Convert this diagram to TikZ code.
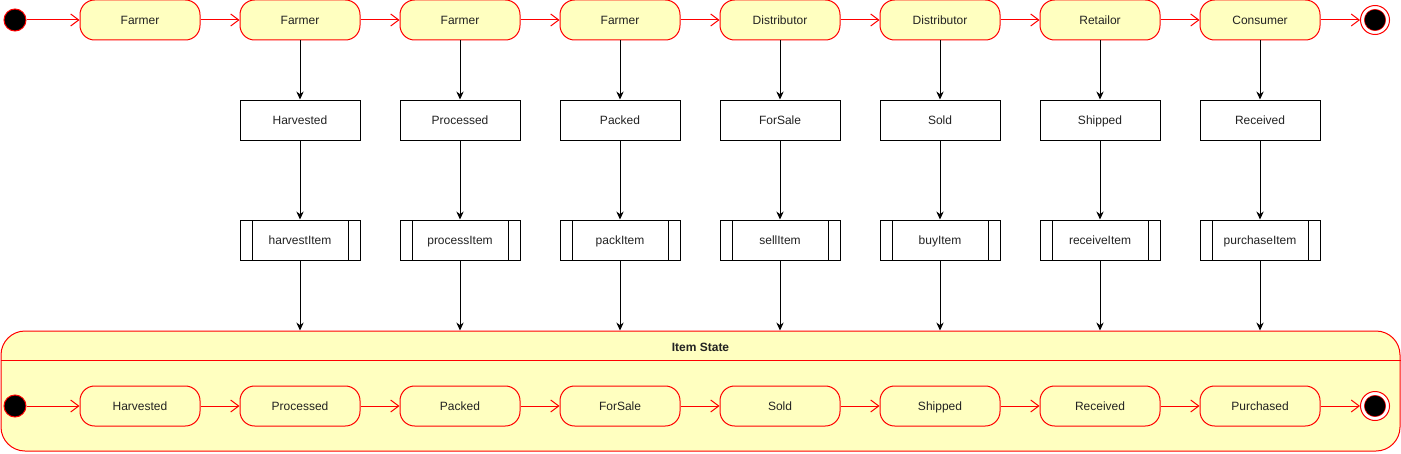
\documentclass[tikz,border=0pt]{standalone}
\usepackage{fontspec}
\setmainfont{Liberation Sans}
\usetikzlibrary{arrows.meta}
\definecolor{stateyellow}{HTML}{FFFFC0}
\definecolor{txt}{HTML}{222222}
\begin{document}
\begin{tikzpicture}[x=0.75pt,y=-0.75pt,
  every node/.style={font=\fontsize{9}{10}\selectfont, text=txt, inner sep=0pt},
  fixtext/.style={text height=8pt, text depth=1pt},
  statebox/.style={fixtext, draw=red, fill=stateyellow, rounded corners=11pt, minimum width=90pt, minimum height=30pt, line width=0.75pt},
  plainbox/.style={fixtext, draw=black, fill=white, minimum width=90pt, minimum height=30pt, line width=0.75pt},
  procbox/.style={plainbox, path picture={
      \draw[black, line width=0.75pt] ([xshift=9pt]path picture bounding box.north west) -- ([xshift=9pt]path picture bounding box.south west);
      \draw[black, line width=0.75pt] ([xshift=-9pt]path picture bounding box.north east) -- ([xshift=-9pt]path picture bounding box.south east);}},
  initstate/.style={circle, draw=red, fill=black, minimum size=16.5pt, line width=0.75pt},
  finalstate/.style={circle, draw=red, fill=white, minimum size=21.75pt, line width=0.75pt, path picture={
      \filldraw[fill=black, draw=red, line width=0.4pt] (path picture bounding box.center) circle (8pt);}},
  redarrow/.style={draw=red, line width=0.75pt, -{Straight Barb[length=6pt,width=9pt]}},
  blackarrow/.style={draw=black, line width=0.75pt, -{Stealth[length=6pt,width=5.5pt,inset=2pt]}}
]
\useasboundingbox (0,0) rectangle (1401,453);

% container
\node[draw=red, fill=stateyellow, rounded corners=18pt, line width=0.75pt, minimum width=1049.25pt, minimum height=90pt] (cont) at (700.5,391) {};
\draw[red, line width=0.75pt] ([yshift=-22.5pt]cont.north west) -- ([yshift=-22.5pt]cont.north east);
\node[fixtext, font=\bfseries\fontsize{9}{10}\selectfont] (ctitle) at (700.5,347) {Item State};

% top row
\node[initstate] (i0) at (15,20) {};
\node[statebox] (a1) at (140,20) {Farmer};
\node[statebox] (a2) at (300,20) {Farmer};
\node[statebox] (a3) at (460,20) {Farmer};
\node[statebox] (a4) at (620,20) {Farmer};
\node[statebox] (a5) at (780,20) {Distributor};
\node[statebox] (a6) at (940,20) {Distributor};
\node[statebox] (a7) at (1100,20) {Retailor};
\node[statebox] (a8) at (1260,20) {Consumer};
\node[finalstate] (f0) at (1375,20) {};

\draw[redarrow] (i0) -- (a1);
\draw[redarrow] (a1) -- (a2);
\draw[redarrow] (a2) -- (a3);
\draw[redarrow] (a3) -- (a4);
\draw[redarrow] (a4) -- (a5);
\draw[redarrow] (a5) -- (a6);
\draw[redarrow] (a6) -- (a7);
\draw[redarrow] (a7) -- (a8);
\draw[redarrow] (a8) -- (f0);

% status boxes
\node[plainbox] (s2) at (300,120) {Harvested};
\node[plainbox] (s3) at (460,120) {Processed};
\node[plainbox] (s4) at (620,120) {Packed};
\node[plainbox] (s5) at (780,120) {ForSale};
\node[plainbox] (s6) at (940,120) {Sold};
\node[plainbox] (s7) at (1100,120) {Shipped};
\node[plainbox] (s8) at (1260,120) {Received};

% process boxes
\node[procbox] (p2) at (300,240) {harvestItem};
\node[procbox] (p3) at (460,240) {processItem};
\node[procbox] (p4) at (620,240) {packItem};
\node[procbox] (p5) at (780,240) {sellItem};
\node[procbox] (p6) at (940,240) {buyItem};
\node[procbox] (p7) at (1100,240) {receiveItem};
\node[procbox] (p8) at (1260,240) {purchaseItem};

\foreach \k in {2,...,8}{
  \draw[blackarrow] (a\k) -- (s\k);
  \draw[blackarrow] (s\k) -- (p\k);
  \draw[blackarrow] (p\k) -- (p\k |- cont.north);
}

% bottom row
\node[initstate] (i1) at (15,406) {};
\node[statebox] (b1) at (140,406) {Harvested};
\node[statebox] (b2) at (300,406) {Processed};
\node[statebox] (b3) at (460,406) {Packed};
\node[statebox] (b4) at (620,406) {ForSale};
\node[statebox] (b5) at (780,406) {Sold};
\node[statebox] (b6) at (940,406) {Shipped};
\node[statebox] (b7) at (1100,406) {Received};
\node[statebox] (b8) at (1260,406) {Purchased};
\node[finalstate] (f1) at (1375,406) {};

\draw[redarrow] (i1) -- (b1);
\draw[redarrow] (b1) -- (b2);
\draw[redarrow] (b2) -- (b3);
\draw[redarrow] (b3) -- (b4);
\draw[redarrow] (b4) -- (b5);
\draw[redarrow] (b5) -- (b6);
\draw[redarrow] (b6) -- (b7);
\draw[redarrow] (b7) -- (b8);
\draw[redarrow] (b8) -- (f1);
\end{tikzpicture}
\end{document}
